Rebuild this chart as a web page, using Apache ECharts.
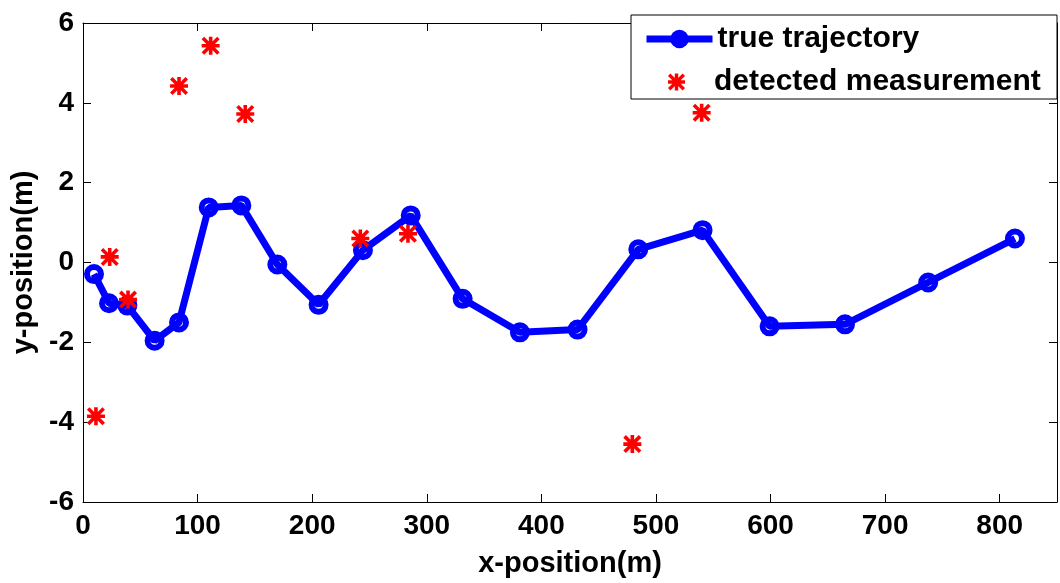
<!DOCTYPE html>
<html>
<head>
<meta charset="utf-8">
<script src="https://cdn.jsdelivr.net/npm/echarts@6/dist/echarts.min.js"></script>
<style>
html,body{margin:0;padding:0;background:#fff;}
#chart{width:1060px;height:583px;}
</style>
</head>
<body>
<div id="chart"></div>
<script>
// ---- data ----
var trajX = [9.6, 22.7, 38.7, 62.5, 83.8, 109.7, 138.2, 169.6, 205.6, 244.3, 286, 331.3, 381.3, 431.6, 484.6, 540.7, 599.2, 665, 737.6, 813.3];
var trajY = [-0.29, -1.02, -1.08, -1.96, -1.5, 1.38, 1.43, -0.05, -1.06, 0.31, 1.18, -0.91, -1.75, -1.68, 0.33, 0.81, -1.6, -1.55, -0.5, 0.6];
var measX = [11.3, 23.3, 39.3, 83.8, 111.4, 141.6, 242, 283.6, 479.4, 539.9];
var measY = [-3.85, 0.14, -0.93, 4.42, 5.43, 3.72, 0.6, 0.72, -4.55, 3.75];
var xTicks = [0, 100, 200, 300, 400, 500, 600, 700, 800];
var yTicks = [-6, -4, -2, 0, 2, 4, 6];
var seriesNames = ['true trajectory', 'detected measurement'];

var trajData = trajX.map(function (x, i) { return [x, trajY[i]]; });
var measData = measX.map(function (x, i) { return [x, measY[i]]; });

var FONT = 'Liberation Sans, Arial, sans-serif';
var starPath = 'path://M8 0L12 0L12 20L8 20Z M0 8L20 8L20 12L0 12Z M2.8 0L20 17.2L17.2 20L0 2.8Z M17.2 0L20 2.8L2.8 20L0 17.2Z';

var chart = echarts.init(document.getElementById('chart'), null, {renderer: 'canvas'});

var tickLabel = {
  fontFamily: FONT, fontWeight: 'bold', fontSize: 28, color: '#000'
};

var option = {
  backgroundColor: '#fff',
  animation: false,
  grid: {left: 83, right: 3, top: 23, bottom: 75, containLabel: false},
  xAxis: [{
    type: 'value', min: 0, max: 850, interval: 100, position: 'bottom',
    axisLine: {show: true, onZero: false, lineStyle: {color: '#000', width: 1}},
    axisTick: {show: true, inside: true, length: 8, lineStyle: {color: '#000'}},
    axisLabel: Object.assign({margin: 10, showMaxLabel: false, formatter: function (v) { return xTicks.indexOf(v) >= 0 ? String(v) : ''; }}, tickLabel),
    splitLine: {show: false},
    name: 'x-position(m)', nameLocation: 'middle', nameGap: 47,
    nameTextStyle: {fontFamily: FONT, fontWeight: 'bold', fontSize: 29, color: '#000'}
  }, {
    type: 'value', min: 0, max: 850, interval: 100, position: 'top',
    axisLine: {show: true, onZero: false, lineStyle: {color: '#000', width: 1}},
    axisTick: {show: true, inside: true, length: 8, lineStyle: {color: '#000'}},
    axisLabel: {show: false},
    splitLine: {show: false}
  }],
  yAxis: [{
    type: 'value', min: -6, max: 6, interval: 2, position: 'left',
    axisLine: {show: true, onZero: false, lineStyle: {color: '#000', width: 1}},
    axisTick: {show: true, inside: true, length: 8, lineStyle: {color: '#000'}},
    axisLabel: Object.assign({margin: 9, formatter: function (v) { return yTicks.indexOf(v) >= 0 ? String(v) : ''; }}, tickLabel),
    splitLine: {show: false},
    name: 'y-position(m)', nameLocation: 'middle', nameGap: 41, nameRotate: 90,
    nameTextStyle: {fontFamily: FONT, fontWeight: 'bold', fontSize: 29, color: '#000'}
  }, {
    type: 'value', min: -6, max: 6, interval: 2, position: 'right',
    axisLine: {show: true, onZero: false, lineStyle: {color: '#000', width: 1}},
    axisTick: {show: true, inside: true, length: 8, lineStyle: {color: '#000'}},
    axisLabel: {show: false},
    splitLine: {show: false}
  }],
  legend: [{
    data: [seriesNames[0]],
    left: 643, top: 24, padding: 0,
    itemWidth: 66, itemHeight: 23,
    lineStyle: {width: 7, color: '#0000ff'},
    z: 11,
    textStyle: {fontFamily: FONT, fontWeight: 'bold', fontSize: 30, color: '#000'}
  }, {
    data: [{name: seriesNames[1], icon: starPath}],
    left: 668, top: 67, padding: 0,
    itemWidth: 17, itemHeight: 17,
    z: 11,
    textStyle: {fontFamily: FONT, fontWeight: 'bold', fontSize: 30, color: '#000', padding: [0, 0, 0, 24]}
  }],
  graphic: [{
    type: 'rect', z: 10,
    shape: {x: 631, y: 15, width: 426, height: 84},
    style: {fill: '#fff', stroke: '#000', lineWidth: 1}
  }],
  series: [{
    name: 'trajectory markers',
    type: 'scatter',
    xAxisIndex: 0, yAxisIndex: 0,
    data: trajData,
    symbol: 'circle', symbolSize: 14,
    itemStyle: {color: '#fff', borderColor: '#0000ff', borderWidth: 6, opacity: 1},
    z: 3
  }, {
    name: seriesNames[0],
    type: 'line',
    xAxisIndex: 0, yAxisIndex: 0,
    data: trajData,
    symbol: 'none',
    lineStyle: {color: '#0000ff', width: 7},
    itemStyle: {color: '#0000ff'},
    z: 4
  }, {
    name: seriesNames[1],
    type: 'scatter',
    xAxisIndex: 0, yAxisIndex: 0,
    data: measData,
    symbol: starPath, symbolSize: 18,
    itemStyle: {color: '#ff0000', opacity: 1},
    z: 5
  }]
};
chart.setOption(option);
</script>
</body>
</html>
